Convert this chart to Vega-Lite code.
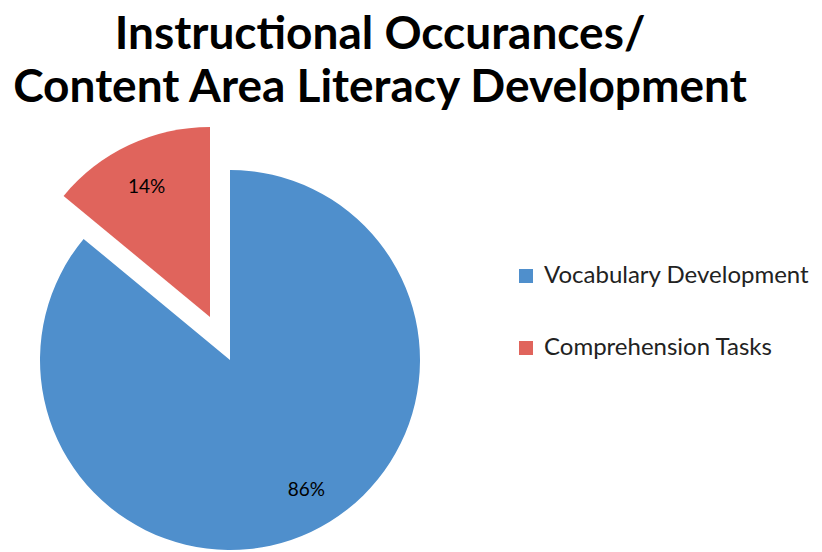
{
  "$schema": "https://vega.github.io/schema/vega-lite/v6.json",
  "width": 460,
  "height": 380,
  "autosize": "none",
  "padding": {"left": 0, "top": 170, "right": 362, "bottom": 2},
  "background": "white",
  "title": {
    "text": ["Instructional Occurances/", "Content Area Literacy Development"],
    "anchor": "middle",
    "dx": 150,
    "font": "Lato",
    "fontSize": 46,
    "fontWeight": "bold",
    "color": "black",
    "lineHeight": 53,
    "offset": 15
  },
  "data": {
    "values": [
      {"category": "Vocabulary Development", "share": 0.86},
      {"category": "Comprehension Tasks", "share": 0.14}
    ]
  },
  "encoding": {
    "theta": {"field": "share", "type": "quantitative", "stack": true},
    "order": {"field": "share", "sort": "descending"},
    "color": {
      "field": "category",
      "type": "nominal",
      "scale": {"domain": ["Vocabulary Development", "Comprehension Tasks"], "range": ["#4F8FCC", "#E0645C"]},
      "legend": {
        "title": null,
        "orient": "none",
        "legendX": 514,
        "legendY": 94,
        "symbolType": "square",
        "symbolSize": 196,
        "symbolStrokeWidth": 0,
        "labelFont": "Lato",
        "labelFontSize": 24,
        "labelColor": "#222222",
        "labelLimit": 400,
        "rowPadding": 48,
        "labelOffset": 6,
        "padding": 0
      }
    }
  },
  "layer": [
    {
      "mark": {"type": "arc", "strokeWidth": 0, "radius": 190},
      "encoding": {
        "fillOpacity": {"condition": {"test": "datum.category === 'Comprehension Tasks'", "value": 0}, "value": 1}
      }
    },
    {
      "mark": {"type": "arc", "strokeWidth": 0, "radius": 190, "xOffset": -20, "yOffset": -43},
      "encoding": {
        "fillOpacity": {"condition": {"test": "datum.category === 'Comprehension Tasks'", "value": 1}, "value": 0}
      }
    },
    {
      "mark": {"type": "text", "radius": 151, "thetaOffset": -0.09, "font": "Lato", "fontSize": 19},
      "encoding": {
        "text": {"field": "share", "type": "quantitative", "format": ".0%"},
        "color": {"value": "black"},
        "opacity": {"condition": {"test": "datum.category === 'Comprehension Tasks'", "value": 0}, "value": 1}
      }
    },
    {
      "mark": {"type": "text", "radius": 144, "font": "Lato", "fontSize": 19, "xOffset": -22, "yOffset": -43},
      "encoding": {
        "text": {"field": "share", "type": "quantitative", "format": ".0%"},
        "color": {"value": "black"},
        "opacity": {"condition": {"test": "datum.category === 'Comprehension Tasks'", "value": 1}, "value": 0}
      }
    }
  ],
  "config": {"view": {"stroke": null}}
}
